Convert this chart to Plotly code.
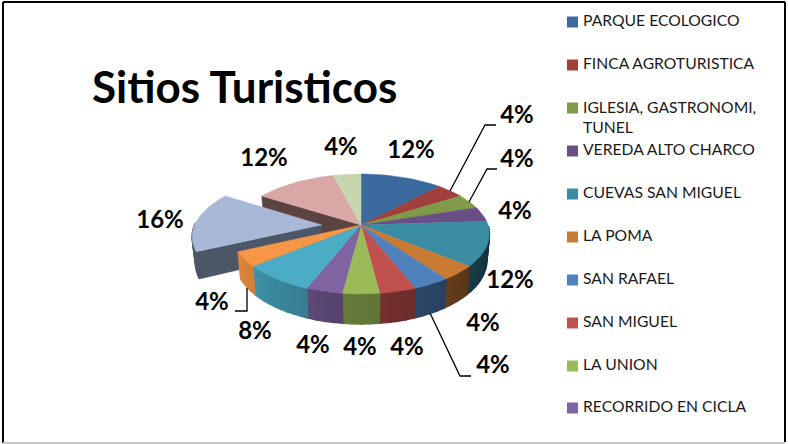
"""
Sitios Turisticos: 3D-look exploded pie, drawn as filled scatter polygons
"""
import numpy as np
import plotly.graph_objects as go

# Only the first ten slices are named in the source legend
categories = ["PARQUE ECOLOGICO", "FINCA AGROTURISTICA", "IGLESIA, GASTRONOMI,<br>TUNEL",
              "VEREDA ALTO CHARCO", "CUEVAS SAN MIGUEL", "LA POMA", "SAN RAFAEL",
              "SAN MIGUEL", "LA UNION", "RECORRIDO EN CICLA"]
percents = [12, 4, 4, 4, 12, 4, 4, 4, 4, 4, 8, 4, 16, 12, 4]
colors = ["#3D6A9E", "#A03F3C", "#7F9A48", "#6A4F87", "#3A8CA3", "#C97A35", "#4F81BD", "#C0504D",
          "#9BBB59", "#8064A2", "#4BACC6", "#F79646", "#A9B8D6", "#D8A7A6", "#C6D6AE"]
exploded_index = 12

# pie projection, in pixels of the 788x444 page
CX, CY = 361, 225
RX, RY = 127, 58.6
PERSP = 0.15
DEPTH = 25.5
EXPLODE = 0.31
WALL_SHRINK = 0.98

# label centres and leader lines follow the reference layout
label_pos = [(411, 152), (517, 117), (517, 161), (515, 213), (510, 282), (483, 325), (493, 367),
             (407, 349), (360, 349), (313, 347), (255, 333), (212, 304), (160, 222), (264, 160),
             (341, 149)]
leaders = [[(450, 191), (485, 125), (496, 125)],
           [(469, 202), (487, 169), (497, 169)],
           [(430, 313), (460, 376), (471, 376)],
           [(247, 288), (247, 311), (235, 311)]]
legend_y = [22, 65, 108, 151, 194, 237, 280, 323, 366, 408]
legend_text_y = [22, 65, 119, 151, 194, 237, 280, 323, 366, 408]


def project(x, y, wall=False):
    x, y = np.asarray(x, float), np.asarray(y, float)
    den = 1 - PERSP * y
    px = RX * x / den
    py = RY * y / den
    if wall:
        px = px * WALL_SHRINK
        py = py + DEPTH / den
    return CX + px, CY + py


def disk(theta, dx=0.0):
    t = np.radians(theta)
    return np.sin(t) + dx, -np.cos(t)


def arc(a, b, step=2.0):
    n = max(2, int(abs(b - a) / step) + 1)
    return np.linspace(a, b, n)


def shade(hex_color, f):
    rgb = [int(hex_color[i:i + 2], 16) for i in (1, 3, 5)]
    return "rgb({},{},{})".format(*[int(c * f) for c in rgb])


def wall_factor(theta):
    return float(np.interp(theta, [100, 245], [0.33, 0.9]))


def add_poly(fig, xs, ys, color, name="", hover=False, width=0.5):
    fig.add_trace(go.Scatter(
        x=xs, y=ys, mode="lines", fill="toself", fillcolor=color,
        line=dict(width=width, color=color), name=name, showlegend=False,
        hoverinfo="name" if hover else "skip"
    ))


def add_top(fig, a, b, color, name, dx=0.0):
    x, y = disk(arc(a, b), dx)
    x = np.concatenate([[dx], x, [dx]])
    y = np.concatenate([[0.0], y, [0.0]])
    px, py = project(x, y)
    add_poly(fig, px, py, color, name, hover=True)


def add_radial_wall(fig, theta, color, dx=0.0):
    x, y = disk(theta, dx)
    tx, ty = project([dx, x], [0.0, y])
    bx, by = project([x, dx], [y, 0.0], wall=True)
    add_poly(fig, np.concatenate([tx, bx, tx[:1]]), np.concatenate([ty, by, ty[:1]]), color)


def add_rim(fig, a, b, base, dx=0.0, fixed=None):
    # strips overlap by their line width so no seams show between them
    edges = arc(a, b, 3.0)
    for t0, t1 in zip(edges[:-1], edges[1:]):
        x, y = disk(np.array([t0, t1]), dx)
        tx, ty = project(x, y)
        bx, by = project(x[::-1], y[::-1], wall=True)
        f = fixed if fixed else wall_factor((t0 + t1) / 2)
        add_poly(fig, np.concatenate([tx, bx, tx[:1]]), np.concatenate([ty, by, ty[:1]]),
                 shade(base, f), width=1.5)


cum = np.cumsum([0] + percents) * 3.6
names = categories + [""] * (len(percents) - len(categories))

fig = go.Figure()

# back of the hollow left by the exploded slice
add_radial_wall(fig, cum[exploded_index + 1], "#5A4341")

# exploded slice first, everything else sits in front of it
a, b = cum[exploded_index], cum[exploded_index + 1]
add_rim(fig, a, min(b, 272), "#A9B8D6", dx=-EXPLODE, fixed=0.47)
add_radial_wall(fig, a, "#4B5666", dx=-EXPLODE)
add_top(fig, a, b, colors[exploded_index], f"{percents[exploded_index]}%", dx=-EXPLODE)

# front rim of the main pie, drawn from the right so each strip overlaps the last
for i in range(len(percents)):
    if i == exploded_index:
        continue
    a, b = max(cum[i], 91), min(cum[i + 1], 245)
    if a < b:
        add_rim(fig, a, b, colors[i])

# top faces
for i in range(len(percents)):
    if i != exploded_index:
        add_top(fig, cum[i], cum[i + 1], colors[i], names[i] or f"{percents[i]}%")

# leader lines
for leader in leaders:
    fig.add_trace(go.Scatter(
        x=[p[0] for p in leader], y=[p[1] for p in leader], mode="lines",
        line=dict(color="#000000", width=1.3), showlegend=False, hoverinfo="skip"
    ))

# percent labels
fig.add_trace(go.Scatter(
    x=[p[0] for p in label_pos], y=[p[1] for p in label_pos], mode="text",
    text=[f"{v}%" for v in percents], textposition="middle center",
    textfont=dict(family="Lato", size=24, color="#000000", weight="bold"),
    showlegend=False, hoverinfo="skip"
))

# legend, one swatch and label per named slice
fig.add_trace(go.Scatter(
    x=[572.5] * len(categories), y=legend_y, mode="markers",
    marker=dict(symbol="square", size=11, color=colors[:len(categories)], line=dict(width=0)),
    showlegend=False, hoverinfo="skip"
))
fig.add_trace(go.Scatter(
    x=[583] * len(categories), y=legend_text_y, mode="text",
    text=categories, textposition="middle right",
    textfont=dict(family="Lato", size=15.7, color="#1A1A1A"),
    showlegend=False, hoverinfo="skip"
))

fig.update_layout(
    width=788, height=444,
    margin=dict(l=0, r=0, t=0, b=0),
    paper_bgcolor="#FFFFFF", plot_bgcolor="#FFFFFF",
    xaxis=dict(range=[0, 788], visible=False, fixedrange=True),
    yaxis=dict(range=[444, 0], visible=False, fixedrange=True),
    annotations=[dict(
        text="<b>Sitios Turisticos</b>", x=244.5, y=86, xref="x", yref="y", showarrow=False,
        font=dict(family="Lato", size=44, color="#000000")
    )],
    shapes=[
        dict(type="line", x0=3, y0=2, x1=785, y1=2, line=dict(color="#000000", width=2)),
        dict(type="line", x0=3, y0=2, x1=3, y1=443, line=dict(color="#000000", width=2)),
        dict(type="line", x0=785, y0=2, x1=785, y1=442, line=dict(color="#000000", width=2)),
        dict(type="line", x0=3, y0=443, x1=785, y1=443, line=dict(color="#C8C8C8", width=2)),
    ]
)

fig.write_html("out.html", config=dict(displayModeBar=False),
               post_script="document.body.style.margin='0';document.body.style.overflow='hidden';")
